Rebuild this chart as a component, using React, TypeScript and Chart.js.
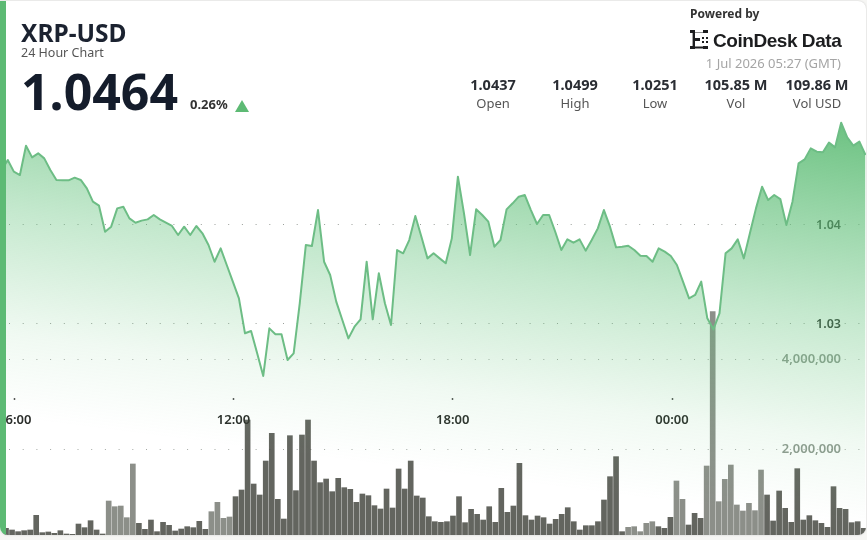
import React, { useEffect, useRef } from "react";
import { Chart, registerables } from "chart.js";

Chart.register(...registerables);

const prices = [
  1.04556, 1.04657, 1.04539, 1.04505, 1.04801, 1.04683, 1.04724, 1.04673, 1.04556, 1.04455, 1.04451, 1.04451,
  1.04478, 1.04455, 1.0437, 1.04236, 1.04195, 1.03932, 1.03983, 1.04168, 1.04185, 1.04067, 1.04023, 1.04044,
  1.04057, 1.04101, 1.04057, 1.04023, 1.0399, 1.03899, 1.03983, 1.03899, 1.0399, 1.03916, 1.03798, 1.03629,
  1.03764, 1.03596, 1.03428, 1.03259, 1.02906, 1.02929, 1.02704, 1.02475, 1.02956, 1.02896, 1.02896, 1.02636,
  1.02704, 1.03209, 1.03798, 1.03788, 1.04151, 1.03629, 1.03495, 1.03226, 1.0304, 1.02855, 1.02973, 1.03047,
  1.03629, 1.03047, 1.03512, 1.03209, 1.0299, 1.03747, 1.03714, 1.03848, 1.04091, 1.03882, 1.03663, 1.03714,
  1.03663, 1.03613, 1.03865, 1.04488, 1.04118, 1.03697, 1.04158, 1.04101, 1.04034, 1.03781, 1.03848, 1.04158,
  1.04219, 1.04286, 1.04303, 1.04151, 1.0401, 1.04101, 1.04101, 1.03932, 1.03747, 1.03855, 1.03821, 1.03855,
  1.03741, 1.03848, 1.03966, 1.04151, 1.03983, 1.03774, 1.03781, 1.03791, 1.03747, 1.0369, 1.03687, 1.03629,
  1.03764, 1.03731, 1.03687, 1.03596, 1.03428, 1.03259, 1.03293, 1.03428, 1.03057, 1.02946, 1.03107, 1.03714,
  1.03764, 1.03855, 1.03663, 1.03916, 1.04168, 1.04387, 1.04252, 1.04303, 1.04262, 1.04, 1.04236, 1.04623,
  1.04663, 1.04774, 1.04741, 1.04734, 1.04832, 1.04784, 1.05033, 1.04885, 1.04801, 1.04842, 1.04707,
];

const volumes = [
  237, 200, 163, 185, 200, 526, 141, 156, 126, 185, 111, 104, 333, 252, 407, 200, 111, 844, 718, 733, 474, 1667,
  348, 215, 422, 163, 370, 304, 178, 222, 274, 252, 393, 215, 607, 815, 459, 489, 941, 1089, 2644, 1222, 978,
  1733, 2348, 881, 444, 2296, 1074, 2311, 2644, 1733, 1252, 1333, 1052, 1348, 1141, 1104, 815, 1000, 963, 741,
  667, 1111, 689, 1556, 1111, 1733, 956, 911, 496, 385, 370, 385, 511, 941, 363, 659, 548, 422, 718, 370, 1126,
  593, 733, 1681, 519, 422, 511, 474, 333, 437, 548, 696, 385, 200, 296, 296, 385, 867, 1385, 1830, 163, 259,
  274, 163, 348, 385, 274, 237, 481, 1289, 881, 311, 570, 459, 1622, 5052, 830, 1326, 1644, 756, 622, 793, 630,
  1533, 978, 400, 1067, 681, 370, 1563, 422, 519, 407, 348, 259, 1163, 681, 659, 363, 385, 237,
].map((v) => v * 1000);

const timeTickLabels = ["06:00", "12:00", "18:00", "00:00"];
const timeTickSlots = [2.14, 38.11, 74.15, 110.2];
const priceTicks = [1.03, 1.04];
const volumeTicks = [2000000, 4000000];

const stats = [
  { value: "1.0437", label: "Open" },
  { value: "1.0499", label: "High" },
  { value: "1.0251", label: "Low" },
  { value: "105.85 M", label: "Vol" },
  { value: "109.86 M", label: "Vol USD" },
];

const paleBarRanges = [
  [17, 21],
  [34, 37],
  [103, 107],
  [111, 112],
  [116, 125],
];

const FONT = '"Noto Sans", sans-serif';

function LogoMark() {
  return (
    <svg width="19" height="19" viewBox="0 0 19 19" style={{ position: "absolute", left: 690, top: 30 }}>
      <path d="M0 0h5v2h8V0h5v3h-5V2.6H5V8h5v3H5v5.4h8V16h5v3h-5v-.6H5v.6H0v-3h2.6V3H0z" fill="#1c1d1f" />
      <rect x="12" y="7" width="2" height="2" fill="#1c1d1f" />
      <rect x="16" y="7" width="2" height="2" fill="#1c1d1f" />
      <rect x="12" y="11" width="2" height="2" fill="#1c1d1f" />
      <rect x="16" y="11" width="2" height="2" fill="#1c1d1f" />
    </svg>
  );
}

export default function App() {
  const ref = useRef<HTMLCanvasElement | null>(null);

  useEffect(() => {
    document.body.style.margin = "0";
    document.body.style.background = "#f6f6f4";
    const canvas = ref.current;
    if (!canvas) return;
    const flatten = (s: any) => {
      if (s.axis === "x") s.height = 0;
      else s.width = 0;
      s.paddingLeft = 0;
      s.paddingRight = 0;
      s.paddingTop = 0;
      s.paddingBottom = 0;
    };
    const chart = new Chart(canvas, {
      data: {
        datasets: [
          {
            type: "line",
            order: 1,
            data: prices.map((p, j) => ({ x: j, y: p })),
            xAxisID: "x",
            yAxisID: "yPrice",
            borderColor: "#6dbd85",
            borderWidth: 2,
            borderJoinStyle: "round",
            tension: 0,
            pointRadius: 0,
            fill: "start",
            backgroundColor: (c: any) => {
              const g = c.chart.ctx.createLinearGradient(867, 110, 815, 520);
              g.addColorStop(0, "rgba(88,185,112,0.92)");
              g.addColorStop(0.5, "rgba(100,195,125,0.38)");
              g.addColorStop(0.8, "rgba(110,200,130,0.1)");
              g.addColorStop(1, "rgba(120,205,140,0)");
              return g;
            },
          },
          {
            type: "bar",
            order: 2,
            data: volumes.map((v, i) => ({ x: i, y: v })),
            xAxisID: "xBar",
            yAxisID: "yVol",
            barThickness: 5,
            backgroundColor: (c: any) =>
              paleBarRanges.some(([a, b]) => c.dataIndex >= a && c.dataIndex <= b)
                ? "rgba(70,75,65,0.62)"
                : "rgba(55,58,50,0.78)",
          },
        ],
      } as any,
      options: {
        responsive: false,
        animation: false,
        layout: { padding: 0 },
        plugins: { legend: { display: false }, tooltip: { enabled: false }, title: { display: false } },
        scales: {
          x: {
            type: "linear",
            position: { yVol: 3133333 },
            min: -0.2745,
            max: 142.25,
            afterBuildTicks: (s: any) => {
              s.ticks = timeTickSlots.map((value) => ({ value }));
            },
            afterFit: flatten,
            border: { display: false },
            grid: { drawOnChartArea: false, drawTicks: true, tickLength: 2, tickColor: "#555", tickWidth: 1.5 },
            ticks: {
              autoSkip: false,
              maxRotation: 0,
              padding: 12,
              color: "#2a2d2a",
              font: { family: FONT, size: 13, weight: 600 },
              callback: (_v: any, i: number) => timeTickLabels[i],
            },
          },
          xBar: { type: "linear", display: false, offset: false, grid: { offset: false }, min: -0.58, max: 142.96 },
          yPrice: {
            type: "linear",
            position: "right",
            min: 1.008283,
            max: 1.062727,
            afterBuildTicks: (s: any) => {
              s.ticks = priceTicks.map((value) => ({ value }));
            },
            afterFit: flatten,
            border: { display: false, dash: [1, 12.7], dashOffset: -9 },
            grid: { drawTicks: false, color: "#9a9f9a", lineWidth: 1 },
            ticks: {
              mirror: true,
              padding: -26,
              color: "#2f332f",
              font: { family: FONT, size: 12.5, weight: 600 },
              callback: (v: any) => Number(v).toFixed(2),
            },
          },
          yVol: {
            type: "linear",
            position: "right",
            min: 0,
            max: 11977778,
            afterBuildTicks: (s: any) => {
              s.ticks = volumeTicks.map((value) => ({ value }));
            },
            afterFit: flatten,
            border: { display: false, dash: [1, 12.7], dashOffset: -9 },
            grid: { drawTicks: false, color: "#a5aaa5", lineWidth: 1 },
            ticks: {
              mirror: true,
              padding: -26,
              color: "#8f9a90",
              font: { family: FONT, size: 13, weight: 600 },
              callback: (v: any) => Number(v).toLocaleString("en-US"),
            },
          },
        },
      } as any,
    });
    return () => chart.destroy();
  }, []);

  const abs = (o: React.CSSProperties): React.CSSProperties => ({
    position: "absolute",
    whiteSpace: "nowrap",
    fontFamily: FONT,
    lineHeight: 1,
    ...o,
  });

  return (
    <div style={{ position: "absolute", left: 0, top: 0, width: 867, height: 540, overflow: "hidden" }}>
      <div
        style={{
          position: "absolute",
          left: 0,
          top: 1,
          width: 866,
          height: 534,
          background: "#fff",
          borderRadius: "0 8px 8px 8px",
          overflow: "hidden",
          boxShadow: "0 0 2px #c9c9c9",
        }}
      >
        <canvas ref={ref} width={867} height={539} style={{ position: "absolute", left: 0, top: -1, display: "block" }} />
        <div style={{ position: "absolute", left: 0, top: 0, width: 6, height: 534, background: "#5dba74" }} />
      </div>
      <div style={abs({ left: 21, top: 21, fontSize: 24.5, fontWeight: 700, color: "#1b2230" })}>XRP-USD</div>
      <div style={abs({ left: 21, top: 47, fontSize: 12.5, color: "#555" })}>24 Hour Chart</div>
      <div style={abs({ left: 21, top: 66, fontSize: 50, fontWeight: 700, color: "#141c2b" })}>1.0464</div>
      <div style={abs({ left: 190, top: 98, fontSize: 13, fontWeight: 700, color: "#333" })}>0.26%</div>
      <div
        style={{
          position: "absolute",
          left: 235,
          top: 100,
          width: 0,
          height: 0,
          borderLeft: "7.5px solid transparent",
          borderRight: "7.5px solid transparent",
          borderBottom: "12px solid #5dba74",
        }}
      />
      <div style={abs({ left: 690, top: 8, fontSize: 12, fontWeight: 700, color: "#333" })}>Powered by</div>
      <LogoMark />
      <div
        style={abs({
          left: 713,
          top: 31,
          fontSize: 19,
          fontWeight: 700,
          letterSpacing: -0.45,
          fontFamily: '"Liberation Sans", sans-serif',
          color: "#1c1d1f",
        })}
      >
        CoinDesk Data
      </div>
      <div style={abs({ right: 26, top: 57, fontSize: 13, color: "#a5a5a5" })}>1 Jul 2026 05:27 (GMT)</div>
      {stats.map((s, i) => (
        <React.Fragment key={s.label}>
          <div
            style={abs({
              left: [493, 575, 655, 736, 817][i] - 50,
              width: 100,
              textAlign: "center",
              top: 77,
              fontSize: 14.5,
              fontWeight: 700,
              color: "#2a2d33",
            })}
          >
            {s.value}
          </div>
          <div
            style={abs({
              left: [493, 575, 655, 736, 817][i] - 50,
              width: 100,
              textAlign: "center",
              top: 97,
              fontSize: 13,
              color: "#555",
            })}
          >
            {s.label}
          </div>
        </React.Fragment>
      ))}
    </div>
  );
}
